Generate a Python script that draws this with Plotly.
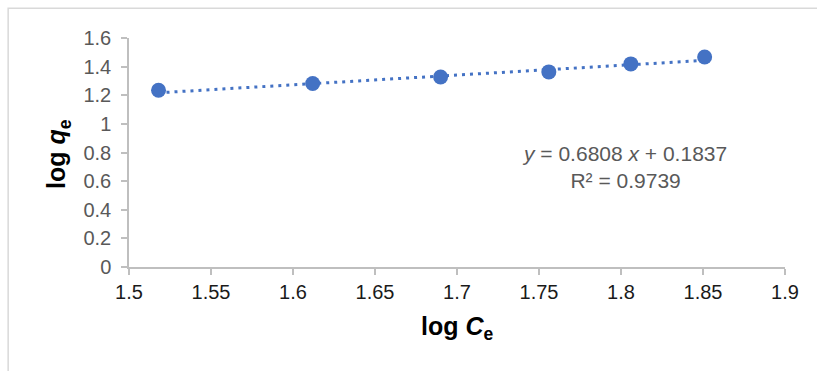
import plotly.graph_objects as go

# Freundlich isotherm (linearised): log Ce vs log qe
log_ce = [1.518, 1.612, 1.690, 1.756, 1.806, 1.851]
log_qe = [1.235, 1.282, 1.328, 1.363, 1.419, 1.467]

# Linear trendline parameters and fit quality
slope = 0.6808
intercept = 0.1837
r_squared = 0.9739

x_ticks = [1.5, 1.55, 1.6, 1.65, 1.7, 1.75, 1.8, 1.85, 1.9]
x_tick_text = ["1.5", "1.55", "1.6", "1.65", "1.7", "1.75", "1.8", "1.85", "1.9"]
y_ticks = [0, 0.2, 0.4, 0.6, 0.8, 1.0, 1.2, 1.4, 1.6]
y_tick_text = ["0", "0.2", "0.4", "0.6", "0.8", "1", "1.2", "1.4", "1.6"]

W, H = 817, 371
L, R, T, B = 129.3, 32, 37.7, 104.3
plot_w = W - L - R
plot_h = H - T - B

BLUE = "#4472C4"
FONT = "Liberation Sans, Arial, sans-serif"


def px_x(px):
    return (px - L) / plot_w


def px_y(py):
    return (H - B - py) / plot_h


trend_x = [min(log_ce), max(log_ce)]
trend_y = [slope * v + intercept for v in trend_x]

fig = go.Figure()
fig.add_trace(go.Scatter(
    x=trend_x, y=trend_y, mode="lines",
    line=dict(color=BLUE, width=3, dash="3px,5px"),
    hoverinfo="skip", showlegend=False,
))
fig.add_trace(go.Scatter(
    x=log_ce, y=log_qe, mode="markers",
    marker=dict(color=BLUE, size=15, line=dict(width=0)),
    showlegend=False,
))

fig.update_layout(
    width=W, height=H,
    margin=dict(l=L, r=R, t=T, b=B, pad=0),
    paper_bgcolor="white", plot_bgcolor="white",
    font=dict(family=FONT, size=20, color="#595959"),
    xaxis=dict(
        range=[1.5, 1.9], tickvals=x_ticks, ticktext=x_tick_text,
        showgrid=False, zeroline=False,
        showline=True, linecolor="#bfbfbf", linewidth=1.5,
        ticks="outside", ticklen=6, tickwidth=1.5, tickcolor="#bfbfbf",
        tickfont=dict(family=FONT, size=20, color="#1a1a1a"),
    ),
    yaxis=dict(
        range=[0, 1.6], tickvals=y_ticks, ticktext=y_tick_text,
        showgrid=False, zeroline=False,
        showline=True, linecolor="#bfbfbf", linewidth=1.5,
        ticks="outside", ticklen=6, tickwidth=1.5, tickcolor="#bfbfbf",
        ticklabelstandoff=6,
        tickfont=dict(family=FONT, size=20, color="#595959"),
    ),
    shapes=[dict(
        type="rect", xref="paper", yref="paper",
        x0=px_x(8.5), x1=px_x(W + 20), y0=px_y(H + 20), y1=px_y(8),
        line=dict(color="#d9d9d9", width=1.5), fillcolor="rgba(0,0,0,0)",
        layer="below",
    )],
    annotations=[
        dict(
            xref="paper", yref="paper", x=px_x(458), y=px_y(328),
            xanchor="center", yanchor="middle", showarrow=False,
            text="<b>log <i>C</i><sub>e</sub></b>",
            font=dict(family=FONT, size=25, color="#000000"),
        ),
        dict(
            xref="paper", yref="paper", x=px_x(59), y=px_y(154),
            xanchor="center", yanchor="middle", showarrow=False,
            textangle=-90,
            text="<b>log <i>q</i><sub>e</sub></b>",
            font=dict(family=FONT, size=25, color="#000000"),
        ),
        dict(
            xref="paper", yref="paper", x=px_x(625), y=px_y(167),
            xanchor="center", yanchor="middle", showarrow=False,
            align="center",
            text=(f"<i>y</i> = {slope:.4f} <i>x</i> + {intercept:.4f}"
                  f"<br>R² = {r_squared:.4f}"),
            font=dict(family=FONT, size=21, color="#595959"),
        ),
    ],
)

fig.write_html("out.html")
